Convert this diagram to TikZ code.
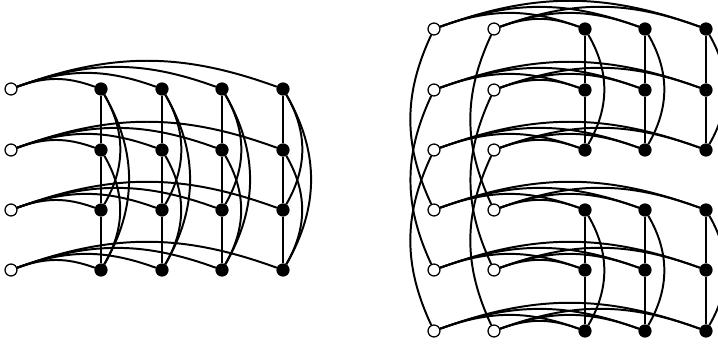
\documentclass[tikz,border=0pt]{standalone}
\usetikzlibrary{positioning}

\begin{document}
\begin{tikzpicture}[
  x=0.025cm, y=0.025cm,
  vtx/.style={circle, draw=black, line width=0.9pt, inner sep=0pt,
              minimum size=8.5pt},
  open/.style={vtx, fill=white},
  full/.style={vtx, fill=black},
  edge/.style={line width=1.4pt},
]
\useasboundingbox (0,0) rectangle (718,346);

% ---- left graph: 4 rows, one open vertex + four full vertices ----------
\foreach \r/\y in {1/257, 2/196, 3/136, 4/76} {
  \node[open] (lw\r) at (11,\y) {};
  \foreach \c/\x in {1/101, 2/162, 3/222, 4/283}
    \node[full] (lb\r\c) at (\x,\y) {};
}

\foreach \r in {1,...,4}
  \foreach \c in {1,...,4}
    \draw[edge] (lw\r) to[bend left=20] (lb\r\c);

% columns are complete on four vertices
\foreach \c in {1,...,4} {
  \draw[edge] (lb1\c) -- (lb2\c) -- (lb3\c) -- (lb4\c);
  \draw[edge] (lb1\c) to[bend left=30] (lb3\c);
  \draw[edge] (lb2\c) to[bend left=30] (lb4\c);
  \draw[edge] (lb1\c) to[bend left=30] (lb4\c);
}

% ---- right graph: 6 rows, two open vertices + three full vertices ------
\foreach \r/\y in {1/317, 2/256, 3/196, 4/136, 5/76, 6/15} {
  \node[open] (rw\r) at (434,\y) {};
  \node[open] (rv\r) at (494,\y) {};
  \foreach \c/\x in {1/585, 2/645, 3/706}
    \node[full] (rb\r\c) at (\x,\y) {};
}

\foreach \r in {1,...,6}
  \foreach \c in {1,...,3} {
    \draw[edge] (rw\r) to[bend left=20] (rb\r\c);
    \draw[edge] (rv\r) to[bend left=20] (rb\r\c);
  }

% full columns: triangles in the upper and lower halves
\foreach \c in {1,...,3}
  \foreach \a/\b/\d in {1/2/3, 4/5/6} {
    \draw[edge] (rb\a\c) -- (rb\b\c) -- (rb\d\c);
    \draw[edge] (rb\a\c) to[bend left=30] (rb\d\c);
  }

% open columns: row i matched to row i+3
\foreach \r [evaluate=\r as \s using int(\r+3)] in {1,2,3} {
  \draw[edge] (rw\r) to[bend right=25] (rw\s);
  \draw[edge] (rv\r) to[bend right=25] (rv\s);
}

\end{tikzpicture}
\end{document}
